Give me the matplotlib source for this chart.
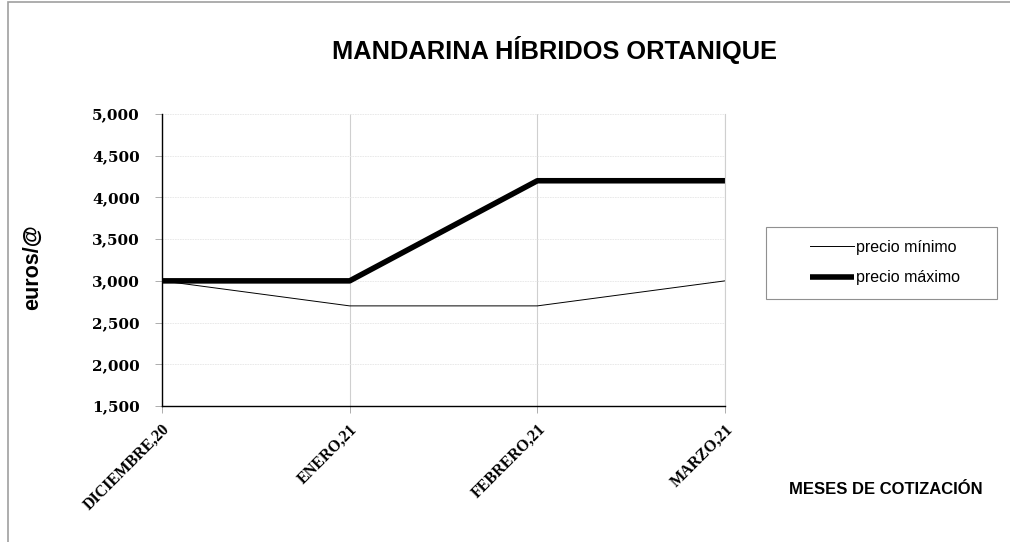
import matplotlib.pyplot as plt
from matplotlib.ticker import FuncFormatter, MultipleLocator
from matplotlib.patches import Rectangle
from matplotlib import font_manager

# datos
meses = ["DICIEMBRE,20", "ENERO,21", "FEBRERO,21", "MARZO,21"]
precio_minimo = [3.0, 2.7, 2.7, 3.0]
precio_maximo = [3.0, 3.0, 4.2, 4.2]

W, H = 1010, 542
fig = plt.figure(figsize=(W / 100, H / 100), dpi=100)
ax = fig.add_axes([162 / W, 1 - 406 / H, (725 - 162) / W, (406 - 114) / H])

# marco del área del gráfico (solo se ven los bordes izquierdo y superior)
fig.patches.append(Rectangle((8 / W, -0.1), 1.2, 1.1 - 1.5 / H,
                             transform=fig.transFigure, fill=False,
                             edgecolor="#a0a0a0", linewidth=1.2))

x = range(len(meses))
ax.plot(x, precio_minimo, color="black", linewidth=0.7, label="precio mínimo")
ax.plot(x, precio_maximo, color="black", linewidth=4, label="precio máximo",
        solid_capstyle="butt")

ax.set_xlim(0, 3)
ax.set_ylim(1.5, 5.0)
ax.yaxis.set_major_locator(MultipleLocator(0.5))
ax.yaxis.set_major_formatter(FuncFormatter(lambda v, p: f"{v:.3f}".replace(".", ",")))

ax.set_xticks(list(x))
ax.set_xticklabels(meses, rotation=45, ha="right", va="top", rotation_mode="anchor",
                   fontfamily="Liberation Serif", fontweight="bold", fontsize=11.5)
for lab in ax.get_yticklabels():
    lab.set_fontfamily("DejaVu Serif")
    lab.set_fontweight("bold")
    lab.set_fontsize(11)

ax.tick_params(axis="y", length=5, width=0.6, color="#a0a0a0", pad=11)
ax.tick_params(axis="x", length=5, width=0.6, color="#a0a0a0", pad=6)

# rejilla
ax.grid(axis="y", color="#e6e6e6", linewidth=0.6, linestyle=(0, (2, 1)))
ax.grid(axis="x", color="#cfcfcf", linewidth=0.8)
ax.set_axisbelow(True)

ax.spines["top"].set_visible(False)
ax.spines["right"].set_color("#cfcfcf")
ax.spines["right"].set_linewidth(0.8)
ax.spines["left"].set_linewidth(1.0)
ax.spines["bottom"].set_linewidth(1.0)

# título (fuente estrecha si existe)
nombres = {f.name for f in font_manager.fontManager.ttflist}
if "Liberation Sans Narrow" in nombres:
    fam_titulo, tam_titulo = "Liberation Sans Narrow", 22
else:
    fam_titulo, tam_titulo = "Liberation Sans", 18.3
fig.text(554 / W, 1 - 50 / H, "MANDARINA HÍBRIDOS ORTANIQUE", ha="center", va="center",
         fontfamily=fam_titulo, fontweight="bold", fontsize=tam_titulo)
fig.text(33 / W, 1 - 267 / H, "euros/@", ha="center", va="center", rotation=90,
         fontfamily="Liberation Sans", fontweight="bold", fontsize=15.5)
fig.text(886 / W, 1 - 490 / H, "MESES DE COTIZACIÓN", ha="center", va="center",
         fontfamily="Liberation Sans", fontweight="bold", fontsize=12)

# leyenda con su propio recuadro
fig.patches.append(Rectangle((766 / W, 1 - 299 / H), (997 - 766) / W, (299 - 227) / H,
                             transform=fig.transFigure, fill=False,
                             edgecolor="#909090", linewidth=0.8))
leg = fig.legend(loc="center left", bbox_to_anchor=(810 / W, 1 - 262.5 / H), frameon=False,
                 prop={"family": "Liberation Sans", "size": 11.5},
                 handlelength=2.75, handletextpad=0.12, labelspacing=1.0,
                 borderpad=0, borderaxespad=0)

fig.savefig("out.png", dpi=100)
